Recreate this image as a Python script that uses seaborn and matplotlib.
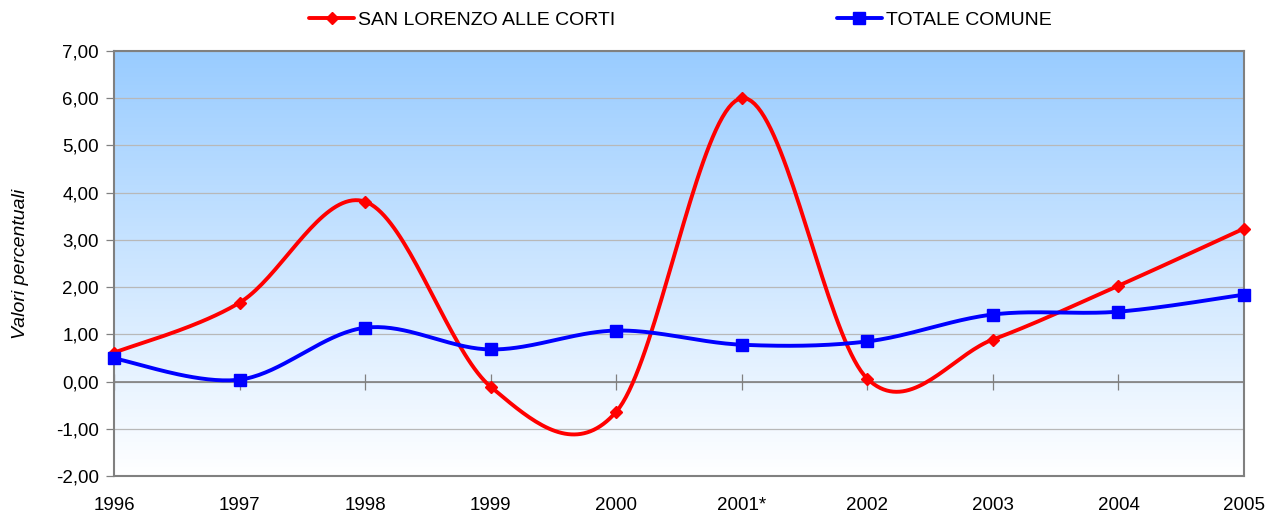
import numpy as np
import pandas as pd
import matplotlib
matplotlib.use("Agg")
import matplotlib.pyplot as plt
from matplotlib.colors import LinearSegmentedColormap
from matplotlib.lines import Line2D
import seaborn as sns

years = ["1996", "1997", "1998", "1999", "2000", "2001*", "2002", "2003", "2004", "2005"]
san_lorenzo = [0.61, 1.67, 3.81, -0.11, -0.64, 6.00, 0.06, 0.89, 2.03, 3.24]
totale_comune = [0.49, 0.04, 1.14, 0.68, 1.08, 0.78, 0.85, 1.42, 1.48, 1.84]
yticks = [-2, -1, 0, 1, 2, 3, 4, 5, 6, 7]
series_names = ["SAN LORENZO ALLE CORTI", "TOTALE COMUNE"]

sns.set_theme(style="white")
plt.rcParams["font.family"] = ["Liberation Sans", "DejaVu Sans"]
plt.rcParams["text.color"] = "black"

fig = plt.figure(figsize=(12.79, 5.16), dpi=100)
ax = fig.add_axes([114/1279, 1-476/516, (1244-114)/1279, (476-51)/516])

x = np.arange(len(years))
ax.set_xlim(0, len(years)-1)
ax.set_ylim(-2, 7)

# gradient background
cmap = LinearSegmentedColormap.from_list("bg", ["#ffffff", "#99ccff"])
grad = np.linspace(0, 1, 256).reshape(-1, 1)
ax.imshow(grad, extent=[0, len(years)-1, -2, 7], origin="lower", aspect="auto",
          cmap=cmap, zorder=0)

# gridlines
for v in yticks:
    ax.axhline(v, color="#b8b8b8", lw=0.9, zorder=1)
ax.axhline(0, color="#808080", lw=1.2, zorder=1.5)
ax.plot(x, np.zeros(len(x)), ls="none", marker="|", ms=12, mew=0.9, color="#808080", zorder=1.5)

def smooth(xs, ys, n=40):
    xs = np.asarray(xs, float); ys = np.asarray(ys, float)
    P = np.column_stack([xs, ys])
    out = []
    for i in range(len(P)-1):
        p0 = P[i-1] if i > 0 else P[i]
        p1 = P[i]; p2 = P[i+1]
        p3 = P[i+2] if i+2 < len(P) else P[i+1]
        c1 = p1 + (p2 - p0)/6.0
        c2 = p2 - (p3 - p1)/6.0
        t = np.linspace(0, 1, n)[:, None]
        seg = (1-t)**3*p1 + 3*(1-t)**2*t*c1 + 3*(1-t)*t**2*c2 + t**3*p2
        out.append(seg if i == 0 else seg[1:])
    s = np.vstack(out)
    return s[:, 0], s[:, 1]

colors = ["#ff0000", "#0000ff"]
markers = ["D", "s"]
msizes = [6.5, 8.5]
for name, vals, c, m, ms in zip(series_names, [san_lorenzo, totale_comune], colors, markers, msizes):
    sx, sy = smooth(x, vals)
    df = pd.DataFrame({"x": sx, "y": sy})
    sns.lineplot(data=df, x="x", y="y", ax=ax, color=c, lw=2.8, sort=False, zorder=3)
    ax.plot(x, vals, ls="none", marker=m, ms=ms, color=c, zorder=4, clip_on=False)

ax.set_yticks(yticks)
ax.set_yticklabels([f"{v:.2f}".replace(".", ",") for v in yticks], fontsize=13.5, color="black")
ax.set_xticks(x)
ax.set_xticklabels(years, fontsize=13.5, color="black")
ax.tick_params(axis="y", which="both", left=True, length=6, width=0.9, color="#808080", pad=5)
ax.tick_params(axis="x", bottom=False, pad=9)
ax.set_xlabel("")
ax.set_ylabel("Valori percentuali", fontsize=14, fontstyle="italic", labelpad=19, color="black")

for sp in ax.spines.values():
    sp.set_color("#808080")
    sp.set_linewidth(1.5)
    sp.set_visible(True)

handles = [Line2D([0], [0], color=c, lw=2.8, marker=m, ms=ms)
           for c, m, ms in zip(colors, markers, msizes)]
leg = fig.legend(handles, series_names, loc="upper center", bbox_to_anchor=(0.532, 1.012), ncol=2,
                 frameon=False, fontsize=14, columnspacing=11.4, handlelength=2.3, handletextpad=0.2)
for t in leg.get_texts():
    t.set_color("black")

fig.savefig("out.png", dpi=100)
